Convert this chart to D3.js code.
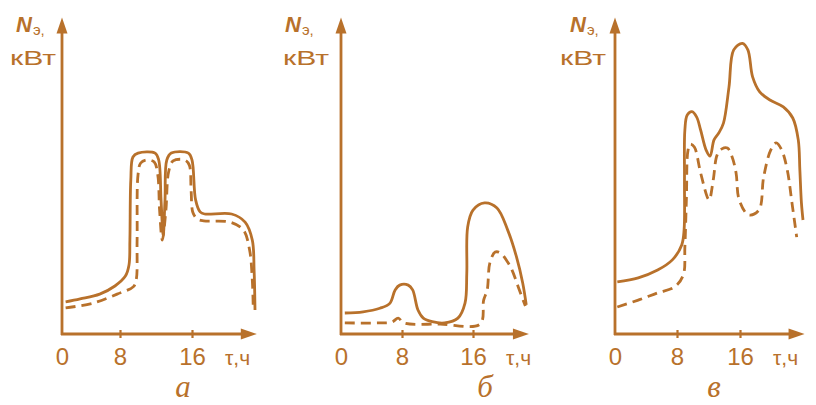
<!DOCTYPE html>
<html>
<head>
<meta charset="utf-8">
<script src="https://cdn.jsdelivr.net/npm/d3@7"></script>
<style>
  body { margin: 0; background: #fff; }
  svg text { fill: #b8712b; }
</style>
</head>
<body>
<script>
// load curves: [hour, relative power]
const solidA = [[0.5,10.7],[2.5,11.7],[5.2,13.3],[7.3,16],[8.6,19.3],[9.0,23],[9.1,31.3],[9.2,51.3],[9.44,59],[10,60.3],
  [11.9,60.3],[12.3,58],[12.56,44.7],[12.8,32.7],[13,44.7],[13.2,58],[13.7,60.3],[15.6,60.3],[16,58],[16.4,44.7],
  [16.9,40.7],[17.4,40],[20.4,40],[21.9,37.3],[22.7,31.3],[22.9,21.3],[23,8]];
const dashA = [[0.5,8.7],[4.3,10.3],[7.6,13.3],[9.5,15.8],[9.8,18],[9.9,31.3],[10,53],[10.3,57],[11,58],[11.8,57.3],
  [12.2,53],[12.4,41.3],[12.7,31.3],[13.1,41.3],[13.4,54],[13.9,57.7],[15.2,58],[15.7,56.3],[15.9,48],[16.1,40.5],
  [16.6,38.3],[17.3,37.7],[20.2,37.3],[21.7,34.7],[22.4,28],[22.7,18],[22.8,9.3]];

const solidB = [[0.5,7],[2.9,7.4],[5.1,8.6],[6.4,10.2],[7.1,14.7],[7.7,16.3],[8.7,16.3],[9.2,14.7],[9.8,8],[10.4,5.3],
  [11.4,4.1],[12.8,3.7],[14.3,5.3],[15.1,10.3],[15.3,20.3],[15.4,35.7],[16,41.3],[17.3,43.7],[18.7,42],[19.9,34.7],
  [20.9,25.7],[21.6,17],[22,9.7]];
const dashB = [[0.5,3.7],[5.1,3.7],[6.7,4],[7.5,5.3],[8.2,3.7],[12.3,3.3],[16.8,3.3],[17.2,11.3],[17.6,14.7],[17.9,23.7],
  [18.5,27.3],[19.1,27],[19.9,24],[20.4,21.3],[21.1,15.7],[21.9,9.3]];

const solidC = [[0.3,17.4],[3,18.7],[5.5,21.3],[7.4,24.7],[8.6,29.7],[8.9,34.7],[8.95,51.3],[9,68],[9.3,73],[9.9,74.1],
  [10.5,72.3],[11,68],[11.7,61.3],[12.2,59.3],[12.7,64.7],[13.3,67],[13.9,70.3],[14.6,82.3],[15.2,94.7],[16.3,96.9],
  [17,94.7],[17.6,85.7],[18.5,80.7],[19.8,78],[21.5,75.7],[22.7,72],[23.4,64.7],[23.6,54.7],[23.8,43.7],[24,38]];
const dashC = [[0.3,9],[3,11.3],[5.5,13.7],[7.7,15.7],[8.8,19.7],[9,29],[9.2,45.7],[9.4,61.3],[9.7,63.3],[10.2,62.3],
  [11,53.7],[11.9,45.3],[12.1,44.7],[12.6,51.3],[13.1,59.7],[13.7,61.7],[14.4,62],[15,59],[15.5,53.7],[15.9,44.7],
  [17.1,39.7],[18.4,41.3],[19,52.3],[19.9,61.3],[20.6,63.7],[21.3,61.3],[22,54.7],[22.6,43.7],[23.2,32.3]];

const xTicks = [0, 8, 16];
const panelNames = ["а", "б", "в"];
const yName = "N", ySub = "э", yUnit = "кВт", xName = "τ,ч";

const col = "#b8712b";
const W = 816, H = 405;

// layout of each small chart (hand drawn, so the tick spacing is uneven)
const panels = [
  { solid: solidA, dash: dashA, px: [62, 120, 192], tEnd: 23.2, nX: 16, kX: 10, cap: 183 },
  { solid: solidB, dash: dashB, px: [341, 402, 473], tEnd: 22.3, nX: 285, kX: 283, cap: 485 },
  { solid: solidC, dash: dashC, px: [615, 677, 740], tEnd: 24.2, nX: 570, kX: 560, cap: 714 }
];

const y = d3.scaleLinear().domain([0, 100]).range([334, 34]);
const yTop = 105.5;

const svg = d3.select("body").append("svg")
  .attr("width", W)
  .attr("height", H);

panels.forEach((p, i) => {
  const x = d3.scaleLinear().domain(xTicks).range(p.px);
  const g = svg.append("g");

  const line = d3.line()
    .x(d => x(d[0]))
    .y(d => y(d[1]))
    .curve(d3.curveCatmullRom.alpha(0.5));

  // axes lines with arrows
  g.append("line")
    .attr("x1", x(0)).attr("x2", x(0))
    .attr("y1", y(0) + 1).attr("y2", y(yTop) + 12)
    .attr("stroke", col).attr("stroke-width", 2.8);
  g.append("line")
    .attr("x1", x(0) - 1).attr("x2", x(p.tEnd) - 12)
    .attr("y1", y(0)).attr("y2", y(0))
    .attr("stroke", col).attr("stroke-width", 2.8);

  const yt = y(yTop), xt = x(p.tEnd);
  g.append("path")
    .attr("d", `M${x(0)},${yt} L${x(0) - 5.5},${yt + 16} L${x(0) + 5.5},${yt + 16} Z`)
    .attr("fill", col);
  g.append("path")
    .attr("d", `M${xt},${y(0)} L${xt - 16},${y(0) - 5.5} L${xt - 16},${y(0) + 5.5} Z`)
    .attr("fill", col);

  // x axis ticks and labels
  const ax = g.append("g")
    .attr("transform", `translate(0,${y(0)})`)
    .call(d3.axisBottom(x).tickValues(xTicks).tickSizeInner(4).tickSizeOuter(0).tickPadding(10));
  ax.select(".domain").remove();
  ax.selectAll(".tick line")
    .attr("y1", -4)
    .attr("stroke", col).attr("stroke-width", 2.2)
    .filter(d => d === 0).remove();
  ax.selectAll(".tick text")
    .attr("font-family", "'Liberation Sans', Arial, sans-serif")
    .attr("font-size", 24)
    .attr("fill", col);

  g.append("text")
    .attr("x", x(16) + 33).attr("y", 365)
    .attr("font-family", "'Liberation Sans', Arial, sans-serif")
    .attr("font-size", 21)
    .text(xName);

  // y title
  const t = g.append("text")
    .attr("x", p.nX).attr("y", 32)
    .attr("font-family", "'Liberation Sans', Arial, sans-serif")
    .attr("font-size", 22);
  t.append("tspan").attr("font-style", "italic").attr("font-weight", "bold").text(yName);
  t.append("tspan").attr("font-size", 15).attr("dy", 3).attr("dx", 1).text(ySub + ",");

  g.append("text")
    .attr("x", p.kX).attr("y", 65)
    .attr("font-family", "'Liberation Sans', Arial, sans-serif")
    .attr("font-size", 21)
    .attr("textLength", 46)
    .attr("lengthAdjust", "spacingAndGlyphs")
    .text(yUnit);

  // curves
  g.append("path")
    .datum(p.solid)
    .attr("d", line)
    .attr("fill", "none")
    .attr("stroke", col).attr("stroke-width", 2.8)
    .attr("stroke-linejoin", "round");
  g.append("path")
    .datum(p.dash)
    .attr("d", line)
    .attr("fill", "none")
    .attr("stroke", col).attr("stroke-width", 2.8)
    .attr("stroke-dasharray", "10,6");

  // panel letter
  g.append("text")
    .attr("x", p.cap).attr("y", 397)
    .attr("text-anchor", "middle")
    .attr("font-family", "'Liberation Serif', 'DejaVu Serif', serif")
    .attr("font-style", "italic")
    .attr("font-size", 31)
    .text(panelNames[i]);
});
</script>
</body>
</html>
